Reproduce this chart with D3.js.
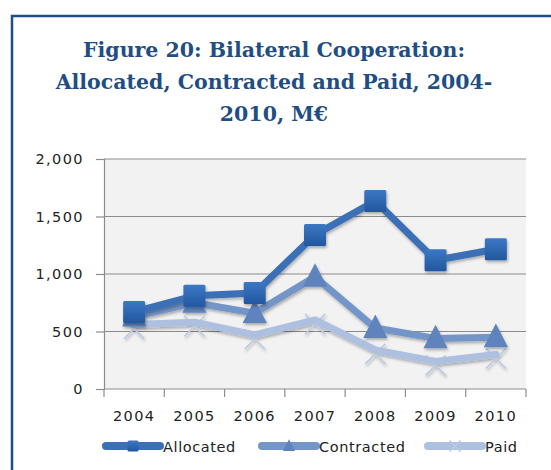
<!DOCTYPE html>
<head>
    <meta charset="utf-8">
    <title>Bilateral Cooperation</title>
    <script src="https://d3js.org/d3.v7.min.js"></script>
    <style>
        body { margin: 0; background: #fff; }
        svg { display: block; }
    </style>
</head>
<body>
    <div id="container"></div>
    <script>
        //------------------------DATA------------------------//
        var years = ["2004", "2005", "2006", "2007", "2008", "2009", "2010"];
        var allocated = [670, 810, 835, 1340, 1635, 1120, 1215];
        var contracted = [630, 750, 660, 975, 530, 440, 450];
        var paid = [560, 580, 470, 600, 340, 240, 300];
        var yTicks = [0, 500, 1000, 1500, 2000];
        var titleLines = ["Figure 20: Bilateral Cooperation:", "Allocated, Contracted and Paid, 2004-", "2010, M€"];

        var series = [
            { name: "Allocated", values: allocated, line: "#3b6fb6", mark: "#2f67b1", shape: "square" },
            { name: "Contracted", values: contracted, line: "#7395c8", mark: "#5f83bd", shape: "triangle" },
            { name: "Paid", values: paid, line: "#adc0df", mark: "#b9c9e4", shape: "cross" }
        ];

        //------------------------SVG------------------------//
        var W = 551, H = 470;
        var margin = { top: 159, right: 25, bottom: 81, left: 104 };
        var width = W - margin.left - margin.right,
            height = H - margin.top - margin.bottom;

        var svg = d3.select("#container").append("svg")
            .attr("width", W).attr("height", H);

        var defs = svg.append("defs");
        var f = defs.append("filter").attr("id", "shadow")
            .attr("x", "-30%").attr("y", "-30%").attr("width", "160%").attr("height", "170%");
        f.append("feDropShadow").attr("dx", 1).attr("dy", 2).attr("stdDeviation", 1.5)
            .attr("flood-color", "#000").attr("flood-opacity", 0.3);
        var grad = defs.append("linearGradient").attr("id", "sq").attr("x1", 0).attr("y1", 0).attr("x2", 0).attr("y2", 1);
        grad.append("stop").attr("offset", "0%").attr("stop-color", "#3c78c4");
        grad.append("stop").attr("offset", "100%").attr("stop-color", "#22579f");

        // frame
        svg.append("rect")
            .attr("x", 12).attr("y", 16).attr("width", 560).attr("height", 480)
            .attr("fill", "none").attr("stroke", "#1f4e86").attr("stroke-width", 2.5);

        // title
        svg.append("g").selectAll("text")
            .data(titleLines).enter().append("text")
            .attr("x", 274).attr("y", function (d, i) { return 57 + i * 32; })
            .attr("text-anchor", "middle")
            .style("font-family", "'DejaVu Serif', serif")
            .style("font-weight", "bold")
            .style("font-size", "20.5px")
            .style("fill", "#1f4e86")
            .text(function (d) { return d; });

        var g = svg.append("g").attr("transform", "translate(" + margin.left + "," + margin.top + ")");

        //------------------------SCALES------------------------//
        var x = d3.scaleBand().domain(years).range([0, width]);
        var y = d3.scaleLinear().domain([0, 2000]).range([height, 0]);

        g.append("rect").attr("width", width).attr("height", height).attr("fill", "#f2f2f2");

        // grid
        g.selectAll(".grid").data(yTicks.slice(1)).enter().append("line")
            .attr("x1", 0).attr("x2", width)
            .attr("y1", function (d) { return y(d); }).attr("y2", function (d) { return y(d); })
            .attr("stroke", "#8c8c8c").attr("stroke-width", 1.2);

        //------------------------AXES------------------------//
        var yAxis = g.append("g")
            .call(d3.axisLeft(y).tickValues(yTicks).tickSize(8).tickPadding(12).tickFormat(d3.format(",")));
        var xAxis = g.append("g").attr("transform", "translate(0," + height + ")")
            .call(d3.axisBottom(x).tickSize(0).tickPadding(22));
        // band boundary ticks
        g.append("g").attr("transform", "translate(0," + height + ")")
            .selectAll("line").data(d3.range(years.length + 1)).enter().append("line")
            .attr("x1", function (i) { return i * x.step(); }).attr("x2", function (i) { return i * x.step(); })
            .attr("y1", 0).attr("y2", 8).attr("stroke", "#8c8c8c").attr("stroke-width", 1.2);

        [yAxis, xAxis].forEach(function (a) {
            a.select(".domain").attr("stroke", "#8c8c8c").attr("stroke-width", 1.2);
            a.selectAll(".tick line").attr("stroke", "#8c8c8c").attr("stroke-width", 1.2);
            a.selectAll("text").style("font-family", "'DejaVu Sans', sans-serif").style("font-size", "14.5px")
                .style("fill", "#222").style("letter-spacing", "1.4px");
        });
        xAxis.select(".domain").attr("d", "M0,0H" + width);

        //------------------------LINES------------------------//
        var line = d3.line()
            .x(function (d, i) { return x(years[i]) + x.bandwidth() / 2; })
            .y(function (d) { return y(d); });

        function drawMarker(sel, shape, color, size) {
            if (shape === "square") {
                sel.append("rect").attr("x", -size / 2).attr("y", -size / 2)
                    .attr("width", size).attr("height", size).attr("rx", 1.5)
                    .attr("fill", "url(#sq)");
            } else if (shape === "triangle") {
                sel.append("path")
                    .attr("d", "M0," + (-size * 0.62) + "L" + (size * 0.55) + "," + (size * 0.45) + "L" + (-size * 0.55) + "," + (size * 0.45) + "Z")
                    .attr("fill", color);
            } else {
                sel.append("path")
                    .attr("d", "M" + (-size / 2) + "," + (-size / 2) + "L" + (size / 2) + "," + (size / 2) + "M" + (size / 2) + "," + (-size / 2) + "L" + (-size / 2) + "," + (size / 2))
                    .attr("stroke", color).attr("stroke-width", 1.5).attr("fill", "none");
            }
        }

        var sizes = { square: 22, triangle: 22, cross: 20 };

        series.slice().reverse().forEach(function (s) {
            var sg = g.append("g").attr("filter", "url(#shadow)");
            if (s.shape === "cross") {
                sg.selectAll(".m").data(s.values).enter().append("g")
                    .attr("transform", function (d, i) { return "translate(" + (x(years[i]) + x.bandwidth() / 2) + "," + (y(d) + 4) + ")"; })
                    .each(function () { drawMarker(d3.select(this), s.shape, s.mark, sizes[s.shape]); });
            }
            sg.append("path").datum(s.values)
                .attr("d", line).attr("fill", "none")
                .attr("stroke", s.line).attr("stroke-width", 7)
                .attr("stroke-linejoin", "round").attr("stroke-linecap", "round");
            if (s.shape !== "cross") {
                sg.selectAll(".m").data(s.values).enter().append("g")
                    .attr("transform", function (d, i) { return "translate(" + (x(years[i]) + x.bandwidth() / 2) + "," + y(d) + ")"; })
                    .each(function () { drawMarker(d3.select(this), s.shape, s.mark, sizes[s.shape]); });
            }
        });

        //------------------------LEGEND------------------------//
        var legendX = [106, 262, 428];
        var legend = svg.append("g").selectAll("g").data(series).enter().append("g")
            .attr("transform", function (d, i) { return "translate(" + legendX[i] + ",446)"; });
        legend.append("line").attr("x1", 0).attr("x2", 54).attr("y1", 0).attr("y2", 0)
            .attr("stroke", function (d) { return d.line; }).attr("stroke-width", 8).attr("stroke-linecap", "round");
        legend.each(function (d) {
            var m = d3.select(this).append("g").attr("transform", "translate(27,0)");
            drawMarker(m, d.shape, d.mark, 11);
        });
        legend.append("text").attr("x", 57).attr("y", 5.5)
            .style("font-family", "'DejaVu Sans', sans-serif").style("font-size", "14.5px")
            .style("fill", "#222").style("letter-spacing", "0.6px")
            .text(function (d) { return d.name; });
    </script>
</body>
